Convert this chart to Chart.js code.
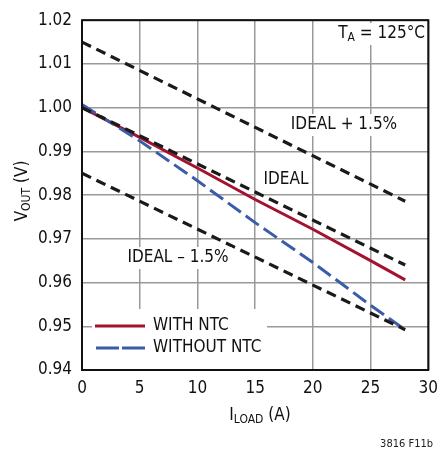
<!DOCTYPE html>
<html>
<head>
<meta charset="utf-8">
<script src="https://cdn.jsdelivr.net/npm/chart.js@4/dist/chart.umd.min.js"></script>
<style>
  html, body { margin: 0; padding: 0; background: #fff; }
  #wrap { width: 446px; height: 452px; position: relative; }
</style>
</head>
<body>
<div id="wrap"><canvas id="myChart" width="446" height="452"></canvas></div>
<script>
// datos
const loadAmps = [0, 5, 10, 15, 20, 25, 28];
const withNtc = [1.000, 0.9932, 0.9862, 0.9790, 0.9722, 0.9650, 0.9606];
const withoutNtc = [1.0007, 0.9924, 0.9833, 0.9737, 0.9646, 0.9548, 0.9492];

const idealAmps = [0, 28];
const ideal = [1.000, 0.9640];
const idealPlus = [1.015, 0.9786];
const idealMinus = [0.985, 0.9492];

const xTicks = [0, 5, 10, 15, 20, 25, 30];
const yTicks = [0.94, 0.95, 0.96, 0.97, 0.98, 0.99, 1.00, 1.01, 1.02];

const FONT = '"Liberation Sans Narrow", "DejaVu Sans Condensed", sans-serif';
const RED = '#a3122f';
const BLUE = '#3b5ca9';

const pts = (xs, ys) => xs.map((x, i) => ({ x: x, y: ys[i] }));

// textos con fondo blanco, leyenda y titulos con subindice
const extras = {
  id: 'extras',
  afterDraw(chart) {
    const c = chart.ctx;
    const a = chart.chartArea;
    c.save();
    c.textBaseline = 'middle';

    function widthOf(parts) {
      let w = 0;
      parts.forEach(p => { c.font = p[1] + 'px ' + FONT; w += c.measureText(p[0]).width; });
      return w;
    }

    // etiqueta con subindice
    function subText(parts, x, y, align) {
      const w = widthOf(parts);
      let cx = align === 'center' ? x - w / 2 : (align === 'right' ? x - w : x);
      c.textAlign = 'left';
      parts.forEach(p => {
        c.font = p[1] + 'px ' + FONT;
        c.fillText(p[0], cx, y + (p[2] || 0));
        cx += c.measureText(p[0]).width;
      });
      return w;
    }

    function boxed(parts, x, y, align) {
      const w = widthOf(parts);
      const left = align === 'center' ? x - w / 2 : (align === 'right' ? x - w : x);
      c.fillStyle = '#fff';
      c.fillRect(left - 3, y - 11, w + 6, 22);
      c.fillStyle = '#111';
      subText(parts, left, y, 'left');
    }

    boxed([['T', 17], ['A', 12, 4], [' = 125\u00b0C', 17]], 425, 34, 'right');
    boxed([['IDEAL + 1.5%', 17]], 344, 125, 'center');
    boxed([['IDEAL', 17]], 286, 180, 'center');
    boxed([['IDEAL \u2013 1.5%', 17]], 178, 258, 'center');

    // leyenda
    c.fillStyle = '#fff';
    c.fillRect(92, 309, 175, a.bottom - 309 - 1);
    c.lineWidth = 3;
    c.strokeStyle = RED;
    c.setLineDash([]);
    c.beginPath(); c.moveTo(95, 326); c.lineTo(145, 326); c.stroke();
    c.strokeStyle = BLUE;
    c.setLineDash([23, 3]);
    c.beginPath(); c.moveTo(96, 348); c.lineTo(145, 348); c.stroke();
    c.setLineDash([]);
    c.fillStyle = '#111';
    c.textAlign = 'left';
    c.font = '17px ' + FONT;
    c.fillText('WITH NTC', 153, 326);
    c.fillText('WITHOUT NTC', 153, 348);

    // marco del grafico
    c.strokeStyle = '#111';
    c.lineWidth = 2;
    c.strokeRect(a.left, a.top, a.right - a.left, a.bottom - a.top);

    // titulos de ejes
    subText([['I', 17], ['LOAD', 12, 4], [' (A)', 17]], 260, 416, 'center');
    c.translate(23, 191);
    c.rotate(-Math.PI / 2);
    subText([['V', 17], ['OUT', 12, 4], [' (V)', 17]], 0, 0, 'center');
    c.restore();

    c.save();
    c.fillStyle = '#222';
    c.font = '11px ' + FONT;
    c.textAlign = 'right';
    c.textBaseline = 'middle';
    c.fillText('3816 F11b', 433, 444);
    c.restore();
  }
};

const ctx = document.getElementById('myChart').getContext('2d');

const data = {
  datasets: [
    { label: 'IDEAL + 1.5%', data: pts(idealAmps, idealPlus), borderColor: '#1a1a1a', borderWidth: 3.2, borderDash: [10, 6] },
    { label: 'IDEAL', data: pts(idealAmps, ideal), borderColor: '#1a1a1a', borderWidth: 3.2, borderDash: [10, 6] },
    { label: 'IDEAL - 1.5%', data: pts(idealAmps, idealMinus), borderColor: '#1a1a1a', borderWidth: 3.2, borderDash: [10, 6] },
    { label: 'WITHOUT NTC', data: pts(loadAmps, withoutNtc), borderColor: BLUE, borderWidth: 3, borderDash: [16, 6] },
    { label: 'WITH NTC', data: pts(loadAmps, withNtc), borderColor: RED, borderWidth: 3 }
  ]
};

const options = {
  responsive: false,
  animation: false,
  devicePixelRatio: 1,
  layout: { padding: { top: 18, right: 12, left: 0, bottom: 0 } },
  elements: { point: { radius: 0 }, line: { tension: 0 } },
  plugins: { legend: { display: false }, tooltip: { enabled: false } },
  scales: {
    x: {
      type: 'linear', min: 0, max: 30,
      afterBuildTicks: s => { s.ticks = xTicks.map(v => ({ value: v })); },
      afterFit: s => { s.height = 82; },
      grid: { color: '#999', lineWidth: 1.5, drawTicks: false },
      border: { display: false },
      ticks: { padding: 8, color: '#111', font: { family: FONT, size: 17 } }
    },
    y: {
      type: 'linear', min: 0.94, max: 1.02,
      afterBuildTicks: s => { s.ticks = yTicks.map(v => ({ value: v })); },
      afterFit: s => { s.width = 82; },
      grid: { color: '#999', lineWidth: 1.5, drawTicks: false },
      border: { display: false },
      ticks: { padding: 10, color: '#111', font: { family: FONT, size: 17 },
        callback: v => v.toFixed(2) }
    }
  }
};

new Chart(ctx, { type: 'line', data: data, options: options, plugins: [extras] });
</script>
</body>
</html>
